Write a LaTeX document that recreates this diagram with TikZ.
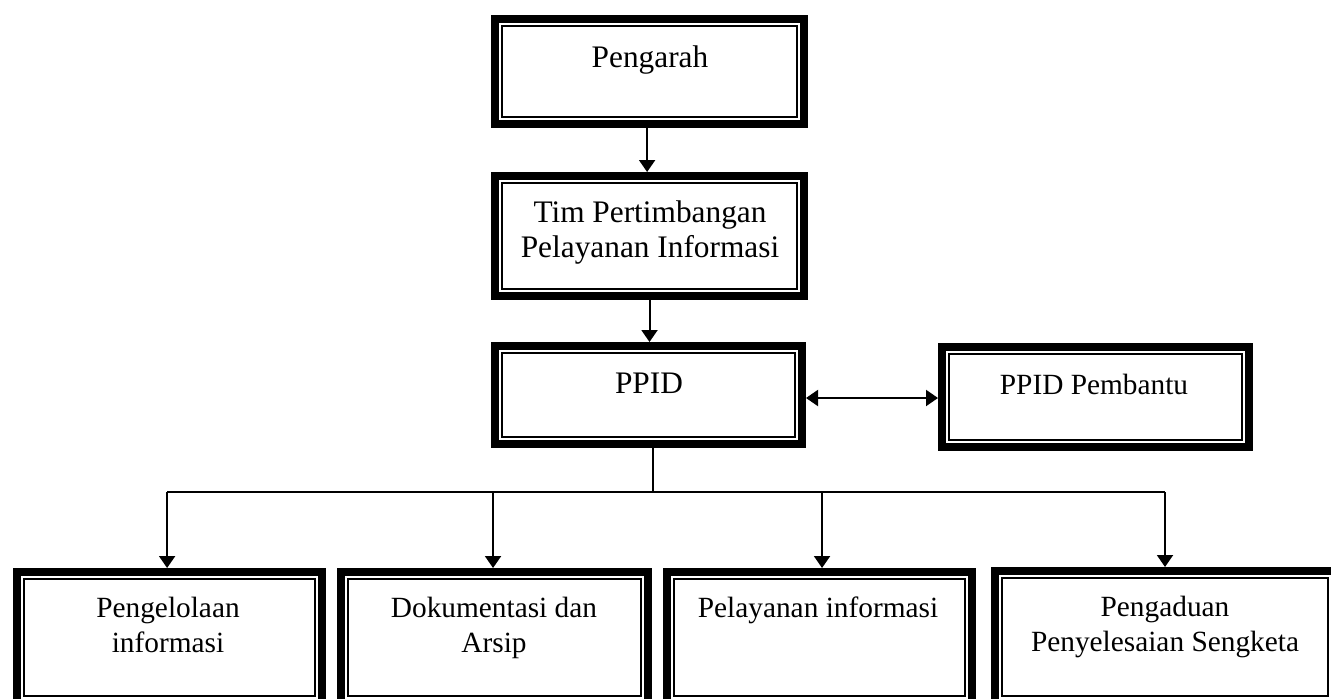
\documentclass[tikz,border=0pt]{standalone}
\usepackage{fontspec}
\setmainfont{Liberation Serif}
\usetikzlibrary{arrows.meta,calc}
\begin{document}
\begin{tikzpicture}[x=0.75pt,y=-0.75pt,
  framebox/.style={draw=black,line width=6pt,inner sep=0pt,
    path picture={\draw[line width=1.4pt]
      ([shift={(5.25pt,-5.25pt)}]path picture bounding box.north west) rectangle
      ([shift={(-5.25pt,5.25pt)}]path picture bounding box.south east);}},
  lbl/.style={anchor=base,inner sep=0pt,font=\fontsize{22pt}{26pt}\selectfont},
  biglbl/.style={anchor=base,inner sep=0pt,font=\fontsize{23.5pt}{28pt}\selectfont},
  conn/.style={line width=1.5pt},
  tip/.tip={Triangle[length=9pt,width=12pt]},
  arr/.style={conn,-tip},
  darr/.style={conn,tip-tip}]
\useasboundingbox (0,0) rectangle (1331,699);
\clip (0,0) rectangle (1331,699);
% boxes
\node[framebox,minimum width=231.75pt,minimum height=78.75pt] (peng) at (649.5,71.5) {};
\node[framebox,minimum width=231.75pt,minimum height=90pt] (tim) at (649.5,236) {};
\node[framebox,minimum width=230.25pt,minimum height=73.5pt] (ppid) at (648.5,395) {};
\node[framebox,minimum width=230.25pt,minimum height=75pt] (pemb) at (1095.5,397) {};
\node[framebox,minimum width=228.75pt,minimum height=98.25pt] (b1) at (169.5,637.5) {};
\node[framebox,minimum width=230.25pt,minimum height=98.25pt] (b2) at (494.5,637.5) {};
\node[framebox,minimum width=228.75pt,minimum height=98.25pt] (b3) at (819.5,637.5) {};
\node[framebox,minimum width=255pt,minimum height=99pt] (b4) at (1165,637) {};
% labels
\node[biglbl] (t1) at (650,68) {Pengarah};
\node[biglbl] (t2) at (650,222) {Tim Pertimbangan};
\node[biglbl] (t3) at (650,257) {Pelayanan Informasi};
\node[biglbl] (t4) at (649,393) {PPID};
\node[lbl] (t5) at (1094,394) {PPID Pembantu};
\node[lbl] (t6) at (168,617) {Pengelolaan};
\node[lbl] (t7) at (168,652) {informasi};
\node[lbl] (t8) at (494,617) {Dokumentasi dan};
\node[lbl] (t9) at (494,652) {Arsip};
\node[lbl] (t10) at (818,617) {Pelayanan informasi};
\node[lbl] (t11) at (1165,616) {Pengaduan};
\node[lbl] (t12) at (1165,651) {Penyelesaian Sengketa};
% connectors
\coordinate (busy) at (0,492);
\draw[arr] ([xshift=-1.8pt]peng.south) -- ([xshift=-1.8pt]peng.south |- tim.north);
\draw[arr] (tim.south) -- (tim.south |- ppid.north);
\draw[darr] ([yshift=-2.25pt]ppid.east) -- ([yshift=-2.25pt]ppid.east -| pemb.west);
\draw[conn] ([xshift=3pt]ppid.south) -- ([xshift=3pt]ppid.south |- busy);
\draw[conn] ([xshift=-1.8pt]b1.north |- busy) -- (b4.north |- busy);
\draw[arr] ([xshift=-1.8pt]b1.north |- busy) -- ([xshift=-1.8pt]b1.north);
\draw[arr] ([xshift=-1.1pt]b2.north |- busy) -- ([xshift=-1.1pt]b2.north);
\draw[arr] ([xshift=1.9pt]b3.north |- busy) -- ([xshift=1.9pt]b3.north);
\draw[arr] (b4.north |- busy) -- (b4.north);
\end{tikzpicture}
\end{document}
